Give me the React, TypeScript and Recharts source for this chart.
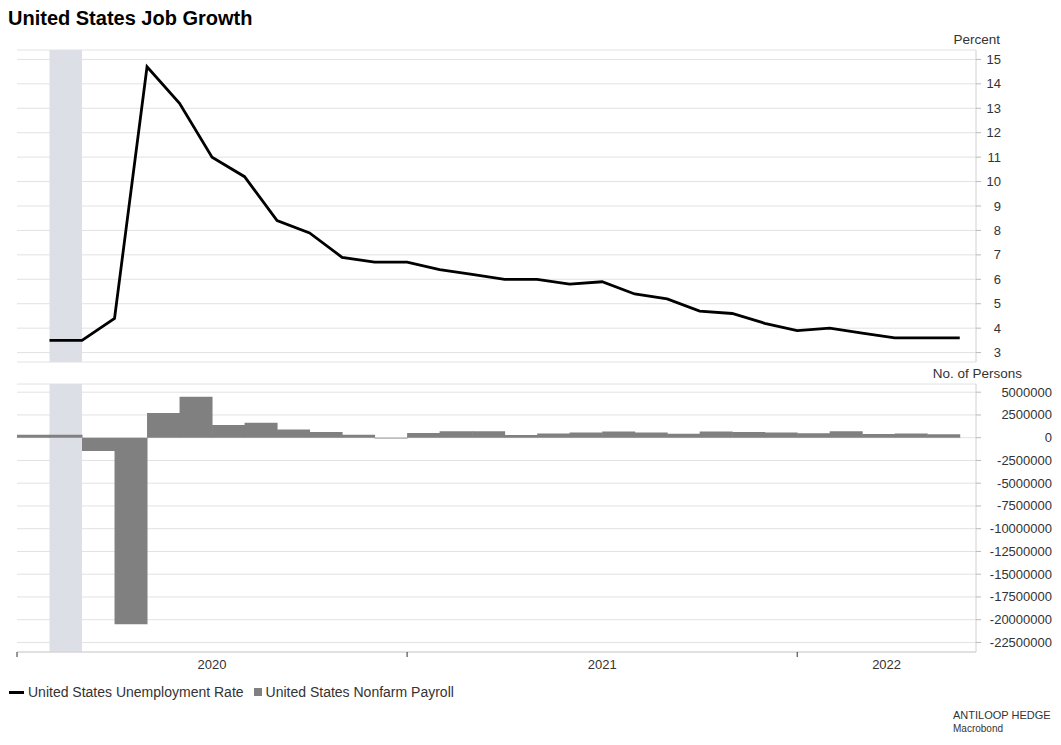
import React from "react";
import {
  LineChart,
  Line,
  BarChart,
  Bar,
  XAxis,
  YAxis,
  CartesianGrid,
  ReferenceArea,
} from "recharts";

// monthly observations, Jan 2020 .. May 2022
const months = [
  "2020-01", "2020-02", "2020-03", "2020-04", "2020-05", "2020-06",
  "2020-07", "2020-08", "2020-09", "2020-10", "2020-11", "2020-12",
  "2021-01", "2021-02", "2021-03", "2021-04", "2021-05", "2021-06",
  "2021-07", "2021-08", "2021-09", "2021-10", "2021-11", "2021-12",
  "2022-01", "2022-02", "2022-03", "2022-04", "2022-05",
];

const unemploymentRate = [
  3.5, 3.5, 4.4, 14.7, 13.2, 11.0, 10.2, 8.4, 7.9, 6.9, 6.7, 6.7,
  6.4, 6.2, 6.0, 6.0, 5.8, 5.9, 5.4, 5.2, 4.7, 4.6, 4.2, 3.9,
  4.0, 3.8, 3.6, 3.6, 3.6,
];

const nonfarmPayroll = [
  310000, 320000, -1450000, -20500000, 2700000, 4500000, 1400000, 1650000,
  900000, 620000, 330000, -100000,
  520000, 710000, 710000, 300000, 450000, 570000, 680000, 560000,
  440000, 670000, 630000, 560000,
  490000, 710000, 410000, 450000, 390000,
];

// months since Jan 2020
const recessionStart = 1;
const recessionEnd = 2;
const yearStarts = [0, 12, 24];
const yearLabelPos = [6, 18, 26.75];
const yearLabels = ["2020", "2021", "2022"];
const xDomain: [number, number] = [0, 29.5];

const rateTicks = [3, 4, 5, 6, 7, 8, 9, 10, 11, 12, 13, 14, 15];
const payrollTicks = [
  -22500000, -20000000, -17500000, -15000000, -12500000, -10000000,
  -7500000, -5000000, -2500000, 0, 2500000, 5000000,
];

// line points sit at month end, bars span the whole month
const lineData = months.map((m, i) => ({ month: m, x: i + 1, rate: unemploymentRate[i] }));
const barData = months.map((m, i) => ({ month: m, x: i + 0.5, payroll: nonfarmPayroll[i] }));

const FONT = "'Liberation Sans', Arial, sans-serif";
const TEXT = "#333333";
const GRID = "#e2e2e2";
const AXIS = "#d0d0d0";
const SHADE = "#dcdfe6";

function RightTick(props: any) {
  const { x, y, payload } = props;
  return (
    <text x={x} y={y} dy={4.5} textAnchor="end" fill={TEXT} fontSize={13} fontFamily={FONT}>
      {payload.value}
    </text>
  );
}

function YearTick(props: any) {
  const { x, y, payload } = props;
  const idx = yearLabelPos.indexOf(payload.value);
  return (
    <text x={x} y={y} dy={10} textAnchor="middle" fill={TEXT} fontSize={13} fontFamily={FONT}>
      {yearLabels[idx]}
    </text>
  );
}

export default function App() {
  return (
    <div
      style={{
        position: "absolute",
        left: 0,
        top: 0,
        width: 1061,
        height: 745,
        background: "#fff",
        fontFamily: FONT,
        color: TEXT,
      }}
    >
      <div
        style={{
          position: "absolute",
          left: 8,
          top: 6,
          fontSize: 20,
          fontWeight: "bold",
          color: "#000",
          lineHeight: "24px",
        }}
      >
        United States Job Growth
      </div>

      {/* Top panel: unemployment rate */}
      <div style={{ position: "absolute", left: 0, top: 0 }}>
        <LineChart
          width={1061}
          height={370}
          data={lineData}
          margin={{ top: 50, right: 25, left: 17, bottom: 8 }}
        >
          <CartesianGrid stroke={GRID} vertical={false} />
          <ReferenceArea
            x1={recessionStart}
            x2={recessionEnd}
            fill={SHADE}
            fillOpacity={1}
            stroke="none"
          />
          <XAxis
            dataKey="x"
            type="number"
            domain={xDomain}
            height={0}
            tick={false}
            tickLine={false}
            axisLine={{ stroke: AXIS }}
          />
          <YAxis
            orientation="right"
            width={60}
            domain={[2.615, 15.385]}
            ticks={rateTicks}
            interval={0}
            allowDataOverflow
            axisLine={{ stroke: AXIS }}
            tickLine={{ stroke: "#bbbbbb" }}
            tickSize={5}
            tickMargin={20}
            tick={<RightTick />}
          />
          <Line
            dataKey="rate"
            stroke="#000"
            strokeWidth={2.8}
            dot={false}
            isAnimationActive={false}
          />
        </LineChart>
      </div>
      <div
        style={{
          position: "absolute",
          right: 61,
          top: 32,
          fontSize: 13.5,
          lineHeight: "16px",
        }}
      >
        Percent
      </div>

      {/* Bottom panel: nonfarm payroll */}
      <div style={{ position: "absolute", left: 0, top: 370 }}>
        <BarChart
          width={1061}
          height={312}
          data={barData}
          margin={{ top: 14, right: 25, left: 17, bottom: 0 }}
          barCategoryGap={0}
          barGap={0}
        >
          <CartesianGrid stroke={GRID} vertical={false} />
          <ReferenceArea
            x1={recessionStart}
            x2={recessionEnd}
            fill={SHADE}
            fillOpacity={1}
            stroke="none"
          />
          <XAxis
            dataKey="x"
            type="number"
            domain={xDomain}
            ticks={yearStarts}
            interval={0}
            height={6}
            tickSize={5}
            tick={() => <g />}
            tickLine={{ stroke: "#333" }}
            axisLine={{ stroke: AXIS }}
          />
          <XAxis
            xAxisId="labels"
            dataKey="x"
            type="number"
            domain={xDomain}
            ticks={yearLabelPos}
            interval={0}
            height={24}
            tickSize={0}
            tickMargin={1}
            tickLine={false}
            axisLine={false}
            tick={<YearTick />}
          />
          <YAxis
            orientation="right"
            width={60}
            domain={[-23550000, 5900000]}
            ticks={payrollTicks}
            interval={0}
            allowDataOverflow
            axisLine={{ stroke: AXIS }}
            tickLine={{ stroke: "#bbbbbb" }}
            tickSize={5}
            tickMargin={71}
            tick={<RightTick />}
          />
          <Bar dataKey="payroll" fill="#808080" isAnimationActive={false} />
        </BarChart>
      </div>
      <div
        style={{
          position: "absolute",
          right: 39,
          top: 366,
          fontSize: 13.5,
          lineHeight: "16px",
        }}
      >
        No. of Persons
      </div>

      {/* Legend */}
      <div
        style={{
          position: "absolute",
          left: 9,
          top: 684,
          fontSize: 14,
          lineHeight: "16px",
          display: "flex",
          alignItems: "center",
          whiteSpace: "nowrap",
        }}
      >
        <span style={{ display: "inline-block", width: 15, height: 3, background: "#000", marginRight: 4 }} />
        <span>United States Unemployment Rate</span>
        <span
          style={{ display: "inline-block", width: 8, height: 8, background: "#808080", marginLeft: 10, marginRight: 4 }}
        />
        <span>United States Nonfarm Payroll</span>
      </div>

      {/* Source */}
      <div style={{ position: "absolute", left: 953, top: 709, fontSize: 11, lineHeight: "13px" }}>
        ANTILOOP HEDGE
      </div>
      <div style={{ position: "absolute", left: 953, top: 723, fontSize: 10, lineHeight: "12px" }}>
        Macrobond
      </div>
    </div>
  );
}
